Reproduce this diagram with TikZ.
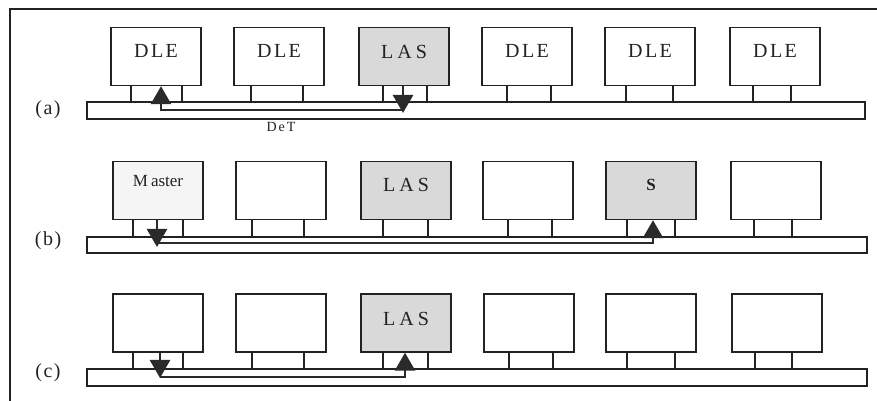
\documentclass[tikz,border=0pt]{standalone}
\usepackage{fontspec}
\setmainfont{Liberation Serif}
\usetikzlibrary{arrows.meta}
\definecolor{linec}{HTML}{222222}
\definecolor{arrowc}{HTML}{2A2A2A}
\definecolor{lasgray}{HTML}{D9D9D9}
\definecolor{mastergray}{HTML}{F5F5F5}
\begin{document}
\begin{tikzpicture}[x=1pt,y=1pt,
  box/.style={draw=linec, line width=1.4pt, minimum width=90pt, minimum height=58pt, inner sep=0pt, fill=white},
  las/.style={box, fill=lasgray},
  mst/.style={box, fill=mastergray},
  bus/.style={draw=linec, line width=1.4pt, fill=white, minimum height=17pt, inner sep=0pt},
  leg/.style={draw=linec, line width=1.4pt},
  sigarrow/.style={draw=arrowc, line width=2.6pt, -{Triangle[width=20pt,length=18pt]}},
  big/.style={font=\fontsize{20}{22}\selectfont, anchor=base, text=linec, inner sep=0pt},
  mid/.style={font=\fontsize{17}{19}\selectfont, anchor=base, text=linec, inner sep=0pt},
  rowlbl/.style={font=\fontsize{20}{22}\selectfont, text=linec, inner sep=0pt},
  small/.style={font=\fontsize{14}{16}\selectfont, text=linec, inner sep=0pt}
]
\useasboundingbox (0,0) rectangle (877,401);
% frame
\draw[linec, line width=1.4pt] (10,0) -- (10,392) -- (877,392);

% ---------- row (a)
\node[rowlbl] (la) at (48,291) {(\hspace{1.5pt}a\hspace{1.5pt})};
\node[bus, minimum width=778pt] (busa) at (476,290.5) {};
\node[box] (a1) at (156,344.5) {};
\node[box] (a2) at (279,344.5) {};
\node[las] (a3) at (404,344.5) {};
\node[box] (a4) at (527,344.5) {};
\node[box] (a5) at (650,344.5) {};
\node[box] (a6) at (775,344.5) {};
\foreach \b/\l/\r in {1/131/182, 2/251/303, 3/383/427, 4/507/551, 5/626/673, 6/753/791}
  \draw[leg] (a\b.south -| \l,0) -- (busa.north -| \l,0) (a\b.south -| \r,0) -- (busa.north -| \r,0);
\node[big] (ta1) at ([yshift=-1pt]a1.center) {D\hspace{2.5pt}L\hspace{2.5pt}E};
\node[big] (ta2) at ([yshift=-1pt]a2.center) {D\hspace{2.5pt}L\hspace{2.5pt}E};
\node[big] (ta3) at ([yshift=-2pt]a3.center) {L\hspace{4pt}A\hspace{4pt}S};
\node[big] (ta4) at ([yshift=-1pt]a4.center) {D\hspace{2.5pt}L\hspace{2.5pt}E};
\node[big] (ta5) at ([yshift=-1pt]a5.center) {D\hspace{2.5pt}L\hspace{2.5pt}E};
\node[big] (ta6) at ([yshift=-1pt]a6.center) {D\hspace{2.5pt}L\hspace{2.5pt}E};
\coordinate (tipa) at (403,288);
\coordinate (ca) at (403,291);
\draw[sigarrow] (a3.south -| tipa) -- (tipa);
\draw[sigarrow] (ca) -- (ca -| 161,0) -- (a1.south -| 161,0);
\node[small] (det) at (281,274) {D\hspace{2pt}e\hspace{2pt}T};

% ---------- row (b)
\node[rowlbl] (lb) at (48,160) {(\hspace{1.5pt}b\hspace{1.5pt})};
\node[bus, minimum width=780pt, minimum height=16pt] (busb) at (477,156) {};
\node[mst] (b1) at (158,210.5) {};
\node[box] (b2) at (281,210.5) {};
\node[las] (b3) at (406,210.5) {};
\node[box] (b4) at (528,210.5) {};
\node[las] (b5) at (651,210.5) {};
\node[box] (b6) at (776,210.5) {};
\foreach \b/\l/\r in {1/133/183, 2/252/304, 3/383/428, 4/508/552, 5/627/675, 6/754/792}
  \draw[leg] (b\b.south -| \l,0) -- (busb.north -| \l,0) (b\b.south -| \r,0) -- (busb.north -| \r,0);
\node[mid] (tb1) at ([yshift=4pt]b1.center) {M\hspace{3pt}aster};
\node[big] (tb3) at ([yshift=-1.5pt]b3.center) {L\hspace{4pt}A\hspace{4pt}S};
\node[mid, font=\fontsize{17}{19}\selectfont\bfseries] (tb5) at ([yshift=-0.5pt]b5.center) {S};
\coordinate (tipb) at (157,154);
\coordinate (cb) at (157,158);
\draw[sigarrow] (b1.south -| tipb) -- (tipb);
\draw[sigarrow] (cb) -- (cb -| 653,0) -- (b5.south -| 653,0);

% ---------- row (c)
\node[rowlbl] (lc) at (48,28) {(\hspace{1.5pt}c\hspace{1.5pt})};
\node[bus, minimum width=780pt] (busc) at (477,23.5) {};
\node[box] (c1) at (158,78) {};
\node[box] (c2) at (281,78) {};
\node[las] (c3) at (406,78) {};
\node[box] (c4) at (529,78) {};
\node[box] (c5) at (651,78) {};
\node[box] (c6) at (777,78) {};
\foreach \b/\l/\r in {1/133/183, 2/252/304, 3/383/428, 4/509/553, 5/627/675, 6/755/792}
  \draw[leg] (c\b.south -| \l,0) -- (busc.north -| \l,0) (c\b.south -| \r,0) -- (busc.north -| \r,0);
\node[big] (tc3) at ([yshift=-3pt]c3.center) {L\hspace{4pt}A\hspace{4pt}S};
\coordinate (tipc) at (160,23);
\coordinate (cc) at (160,24);
\draw[sigarrow] (c1.south -| tipc) -- (tipc);
\draw[sigarrow] (cc) -- (cc -| 405,0) -- (c3.south -| 405,0);
\end{tikzpicture}
\end{document}
